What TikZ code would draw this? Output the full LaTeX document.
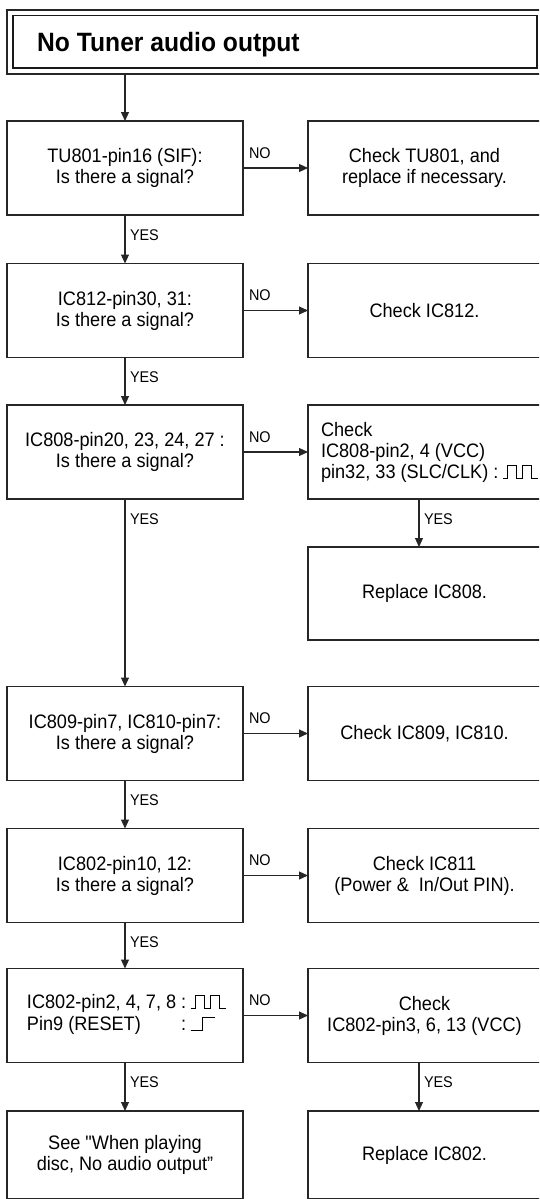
\documentclass[tikz,border=0pt]{standalone}
\usepackage{fontspec}
\setmainfont{Liberation Sans}[FakeStretch=0.93]
\newfontfamily\rawfont{Liberation Sans}[FakeStretch=0.93]
\usetikzlibrary{arrows.meta}
\newcommand\pulsetrain{\tikz[baseline=0pt,x=1pt,y=1pt,line width=0.9pt]\draw (0,0)--(5,0)--(5,13)--(14,13)--(14,0)--(20,0)--(20,13)--(29,13)--(29,0)--(35,0);}
\newcommand\stepup{\tikz[baseline=0pt,x=1pt,y=1pt,line width=0.9pt]\draw (0,0)--(12,0)--(12,13)--(24,13);}
\begin{document}
\begin{tikzpicture}[x=1pt,y=-1pt,
  box/.style={draw=black!85,line width=1.1pt,minimum height=94pt,inner sep=0pt,outer sep=0pt,align=center,font=\fontsize{19.5}{21}\selectfont},
  lbox/.style={box,minimum width=236pt},
  rbox/.style={box,minimum width=233pt},
  txt/.style={inner sep=0pt,outer sep=0pt,align=left,font=\fontsize{19.5}{21}\selectfont},
  lbl/.style={inner sep=0pt,outer sep=0pt,font=\fontsize{15.5}{17}\selectfont},
  arr/.style={draw=black!85,line width=1.1pt,-{Triangle[length=9pt,width=8pt]}},
  ln/.style={draw=black!85,line width=1.1pt}]
\useasboundingbox (0,0) rectangle (539,1199);
\clip (0,0) rectangle (539,1199);
% title
\node[draw=black!85,line width=1.2pt,minimum width=538pt,minimum height=64pt,inner sep=0pt,outer sep=0pt] (tout) at (276,42) {};
\node[draw=black!90,line width=1.8pt,minimum width=524pt,minimum height=52.5pt,inner sep=0pt,outer sep=0pt] (tin) at (275,41.75) {};
\node[anchor=base west,inner sep=0pt,font=\fontsize{26.5}{28}\selectfont\bfseries] (ttl) at (37,52) {No Tuner audio output};
\coordinate (rc) at (419,0);
% left column
\node[lbox] (b1) at (125,168) {TU801-pin16 (SIF):\\Is there a signal?};
\node[lbox] (b2) at (125,310.5) {IC812-pin30, 31:\\Is there a signal?};
\node[lbox] (b3) at (125,452) {IC808-pin20, 23, 24, 27 :\\Is there a signal?};
\node[lbox] (b4) at (125,733.5) {IC809-pin7, IC810-pin7:\\Is there a signal?};
\node[lbox] (b5) at (125,875.5) {IC802-pin10, 12:\\Is there a signal?};
\node[lbox] (b6) at (125,1015.5) {};
\node[txt,anchor=west] (b6t) at (27,1015.5) {\begin{tabular}{@{}l@{\hspace{5pt}}l@{}}IC802-pin2, 4, 7, 8 & :\hspace{4pt}\pulsetrain\\[1pt] Pin9 (RESET) & :\hspace{4pt}\stepup\end{tabular}};
\node[lbox,minimum height=88pt] (b7) at (125,1155) {See {\rawfont"}When playing\\disc, No audio output"};
% right column
\node[rbox] (r1) at (424.5,168) {Check TU801, and\\replace if necessary.};
\node[rbox] (r2) at (424.5,310.5) {Check IC812.};
\node[rbox] (r3) at (424.5,452) {};
\node[txt,anchor=west] (r3t) at (321,452) {Check\\IC808-pin2, 4 (VCC)\\pin32, 33 (SLC/CLK) :\hspace{4pt}\pulsetrain};
\node[rbox,minimum height=93pt] (r3b) at (424.5,593.5) {Replace IC808.};
\node[rbox] (r4) at (424.5,733.5) {Check IC809, IC810.};
\node[rbox] (r5) at (424.5,875.5) {Check IC811\\(Power \&\ \ In/Out PIN).};
\node[rbox] (r6) at (424.5,1015.5) {Check\\IC802-pin3, 6, 13 (VCC)};
\node[rbox,minimum height=88pt] (r7) at (424.5,1155) {Replace IC802.};
% vertical arrows
\draw[arr] (tout.south -| b1.north) -- (b1.north);
\draw[arr] (b1) -- (b2);
\draw[arr] (b2) -- (b3);
\draw[arr] (b3) -- (b4);
\draw[arr] (b4) -- (b5);
\draw[arr] (b5) -- (b6);
\draw[arr] (b6) -- (b7);
\draw[arr] (r3.south -| rc) -- (r3b.north -| rc);
\draw[arr] (r6.south -| rc) -- (r7.north -| rc);
% horizontal arrows
\draw[arr] (b1.east) -- (r1.west);
\draw[arr] (b2.east) -- (r2.west);
\draw[arr] (b3.east) -- (r3.west);
\draw[arr] (b4.east) -- (r4.west);
\draw[arr] (b5.east) -- (r5.west);
\draw[arr] (b6.east) -- (r6.west);
% labels
\foreach \b in {b1,b2,b3,b4,b5,b6} {
  \node[lbl,anchor=base west] (no\b) at ([xshift=6pt,yshift=10pt]\b.east) {NO};
  \node[lbl,anchor=base west] (yes\b) at ([xshift=5pt,yshift=-25pt]\b.south) {YES};
}
\node[lbl,anchor=base west] (yesr3) at ([xshift=5pt,yshift=-25pt]r3.south -| rc) {YES};
\node[lbl,anchor=base west] (yesr6) at ([xshift=5pt,yshift=-25pt]r6.south -| rc) {YES};
\end{tikzpicture}
\end{document}
